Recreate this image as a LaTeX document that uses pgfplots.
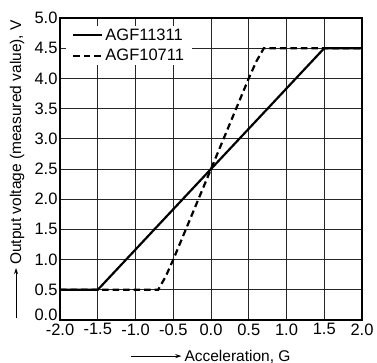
\documentclass[border=0pt]{standalone}
\usepackage{fontspec}
\setmainfont{Liberation Sans}
\usepackage{pgfplots}
\pgfplotsset{compat=1.18}
\usetikzlibrary{arrows.meta}
\newcommand{\lfont}{\fontsize{15.5}{17}\selectfont}
\newcommand{\gfont}{\fontsize{16.5}{18}\selectfont}
\newcommand{\tfont}{\fontsize{16.5}{18}\selectfont}
\begin{document}
\begin{tikzpicture}
\begin{axis}[
  name=ax,
  scale only axis,
  width=302pt, height=302pt,
  xmin=-2, xmax=2, ymin=0, ymax=5,
  xtick={-2,-1.5,...,2}, ytick={0,0.5,...,5},
  xticklabels={-2.0,-1.5,-1.0,-0.5,0.0,0.5,1.0,1.5,2.0},
  yticklabels={\raisebox{-0.5pt}[0pt][0pt]{0.0},0.5,1.0,1.5,2.0,2.5,3.0,3.5,4.0,4.5,5.0},
  grid=major,
  major grid style={black!85, line width=0.7pt},
  tick style={draw=none},
  axis line style={black, line width=1.6pt},
  tick label style={font=\tfont},
  xticklabel style={yshift=0pt},
  yticklabel style={xshift=1pt},
  xlabel={\hspace*{53pt}Acceleration, G},
  ylabel={\hspace*{53pt}Output voltage (measured value), V},
  every axis x label/.style={name=xl, at={(axis description cs:0.5,-0.136)}, anchor=base, inner sep=0pt, font=\lfont},
  every axis y label/.style={name=yl, at={(axis description cs:-0.129,0.5)}, rotate=90, anchor=base, inner sep=0pt, font=\lfont},
  legend style={at={(axis description cs:0.02,0.975)}, anchor=north west, draw=none, fill=white,
    font=\gfont, row sep=3.5pt, inner xsep=6pt, inner ysep=1pt},
  legend cell align=left,
  legend image code/.code={\draw[#1] (0pt,0pt) -- (29pt,0pt);},
]
\addplot[black, line width=2.2pt] coordinates {(-2,0.5) (-1.5,0.5) (1.5,4.5) (2,4.5)};
\addlegendentry{AGF11311}
\addplot[black, line width=2.2pt, dash pattern=on 6.5pt off 4pt] coordinates {(-2,0.5) (-0.7,0.5) (-0.6,0.72) (-0.5,1.0) (0.5,4.0) (0.6,4.28) (0.7,4.5) (2,4.5)};
\addlegendentry{AGF10711}
\end{axis}
\draw[line width=0.8pt, -{Stealth[length=6pt,width=4pt]}] ([shift={(0pt,5pt)}]xl.base west) -- ++(50pt,0);
\draw[line width=0.8pt, -{Stealth[length=6pt,width=4pt]}] ([shift={(-5pt,0pt)}]yl.base west) -- ++(0,50pt);
\pgfresetboundingbox
\path ([shift={(-60pt,-43pt)}]ax.south west) rectangle ([shift={(15pt,18pt)}]ax.north east);
\end{tikzpicture}
\end{document}
